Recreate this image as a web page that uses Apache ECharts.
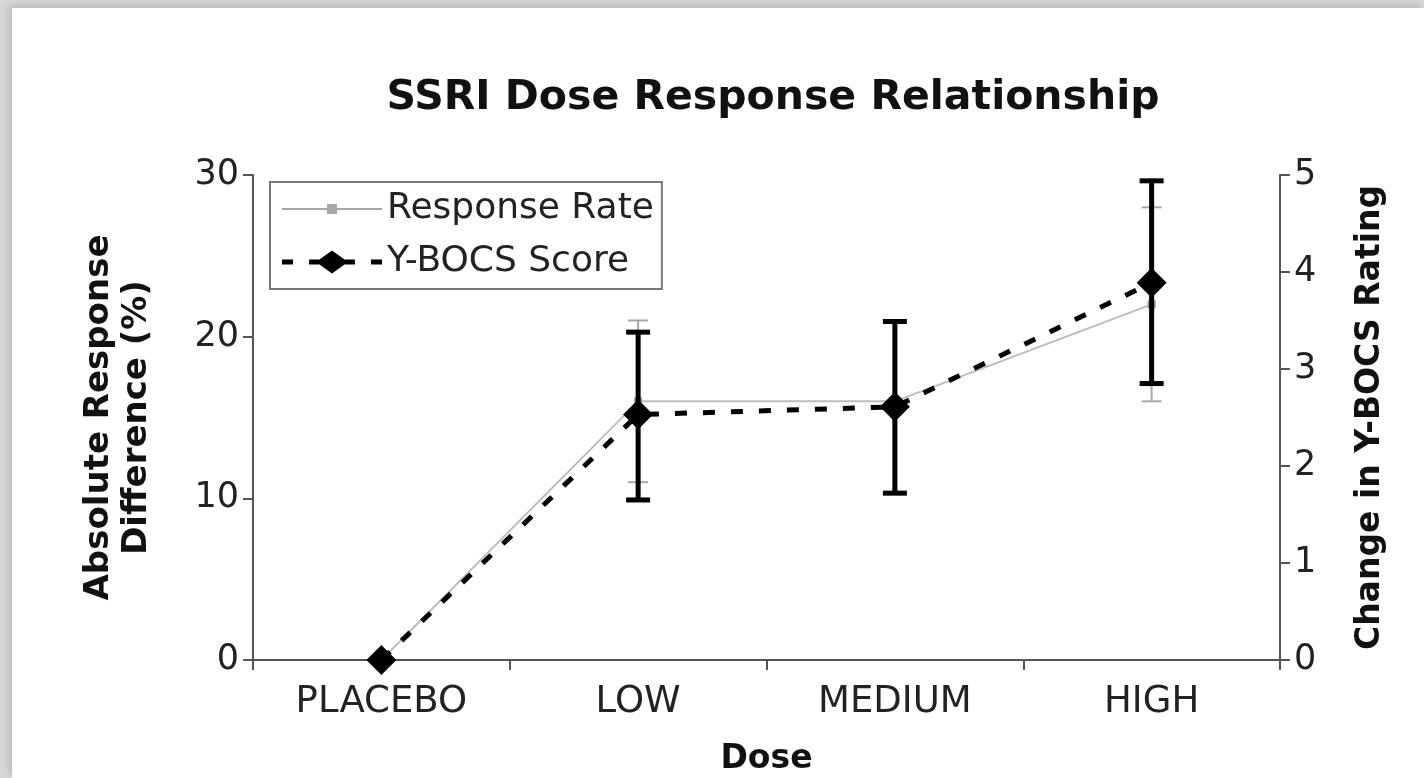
<!DOCTYPE html>
<html>
<head>
<meta charset="utf-8">
<title>SSRI Dose Response Relationship</title>
<script src="https://cdn.jsdelivr.net/npm/echarts@6/dist/echarts.min.js"></script>
<style>
  html, body { margin: 0; padding: 0; width: 1424px; height: 778px; overflow: hidden; background: #d6d6d6; }
  #panel {
    position: absolute; left: 12px; top: 8px; right: 0; bottom: 0;
    background: #ffffff;
    box-shadow: -3px -3px 6px rgba(0,0,0,0.12);
  }
  #chart { position: absolute; left: 0; top: 0; width: 1424px; height: 778px; }
</style>
</head>
<body>
<div id="panel"></div>
<div id="chart"></div>
<script>
// dose groups
const doses = ['PLACEBO', 'LOW', 'MEDIUM', 'HIGH'];

// absolute response difference (%) – left axis
const responseRate = [0, 16, 16, 22];
const responseLow = [null, 11, null, 16];
const responseHigh = [null, 21, null, 28];

// change in Y-BOCS rating – right axis
const ybocsScore = [0, 2.53, 2.61, 3.89];
const ybocsLow = [null, 1.65, 1.72, 2.85];
const ybocsHigh = [null, 3.38, 3.49, 4.94];

// axis ticks
const leftTicks = { min: 0, max: 30, interval: 10 };
const rightTicks = { min: 0, max: 5, interval: 1 };

const fontFamily = '"DejaVu Sans", Verdana, sans-serif';

// legend icons: grey line with a small square, dashed black line with a diamond
const rateIcon = 'path://M0,12H100V14H0Z M45,8H55V18H45Z';
const ybocsIcon = 'path://M0,11H11V16H0Z M27,11H73V16H27Z M50,2L66,13.5L50,25L34,13.5Z M89,11H100V16H89Z';

// [index, low, high] rows for the error bars
const toErrorRows = (lows, highs) =>
  doses.map((d, i) => [i, lows[i], highs[i]]).filter(r => r[1] != null && r[2] != null);

// draws a vertical error bar with caps through the axis scales
const errorBar = (color, lineWidth, capWidth) => (params, api) => {
  const x = api.value(0);
  const lo = api.coord([x, api.value(1)]);
  const hi = api.coord([x, api.value(2)]);
  const half = capWidth / 2;
  const style = { stroke: color, lineWidth: lineWidth };
  return {
    type: 'group',
    children: [
      { type: 'line', shape: { x1: lo[0], y1: lo[1], x2: hi[0], y2: hi[1] }, style },
      { type: 'line', shape: { x1: lo[0] - half, y1: lo[1], x2: lo[0] + half, y2: lo[1] }, style },
      { type: 'line', shape: { x1: hi[0] - half, y1: hi[1], x2: hi[0] + half, y2: hi[1] }, style }
    ]
  };
};

const chart = echarts.init(document.getElementById('chart'));

const axisLine = { show: true, lineStyle: { color: '#555', width: 2 } };
const axisTick = { show: true, length: 10, lineStyle: { color: '#555', width: 2 } };

const option = {
  backgroundColor: 'transparent',
  animation: false,
  title: {
    text: 'SSRI Dose Response Relationship',
    left: 768,
    textAlign: 'center',
    top: 73,
    textStyle: { fontFamily, fontSize: 41, fontWeight: 'bold', color: '#111' }
  },
  legend: {
    data: [
      { name: 'Response Rate', icon: rateIcon, itemStyle: { color: '#a8a8a8' } },
      { name: 'Y-BOCS Score', icon: ybocsIcon, itemStyle: { color: '#000' } }
    ],
    orient: 'vertical',
    left: 270,
    top: 182,
    padding: [9, 8, 9, 12],
    itemGap: 17,
    itemWidth: 100,
    itemHeight: 26,
    borderColor: '#777',
    borderWidth: 2,
    backgroundColor: '#fff',
    textStyle: { fontFamily, fontSize: 36, color: '#222' }
  },
  grid: { left: 253, right: 144, top: 175, bottom: 118, outerBoundsMode: 'none' },
  xAxis: {
    type: 'category',
    data: doses,
    boundaryGap: true,
    name: 'Dose',
    nameLocation: 'middle',
    nameGap: 83,
    nameTextStyle: { fontFamily, fontSize: 33, fontWeight: 'bold', color: '#111' },
    axisLine,
    axisTick: Object.assign({ alignWithLabel: false, interval: 0 }, axisTick),
    axisLabel: { fontFamily, fontSize: 37, color: '#222', margin: 24 },
    splitLine: { show: false }
  },
  yAxis: [
    {
      type: 'value',
      min: leftTicks.min,
      max: leftTicks.max,
      interval: leftTicks.interval,
      position: 'left',
      name: 'Absolute Response\nDifference (%)',
      nameLocation: 'middle',
      nameRotate: 90,
      nameGap: 97,
      nameTextStyle: { fontFamily, fontSize: 34, fontWeight: 'bold', color: '#111', lineHeight: 38 },
      axisLine,
      axisTick,
      axisLabel: { fontFamily, fontSize: 35, color: '#222', margin: 14 },
      splitLine: { show: false }
    },
    {
      type: 'value',
      min: rightTicks.min,
      max: rightTicks.max,
      interval: rightTicks.interval,
      position: 'right',
      name: 'Change in Y-BOCS Rating',
      nameLocation: 'middle',
      nameRotate: 90,
      nameGap: 74,
      nameTextStyle: { fontFamily, fontSize: 33, fontWeight: 'bold', color: '#111' },
      axisLine,
      axisTick,
      axisLabel: { fontFamily, fontSize: 35, color: '#222', margin: 14 },
      splitLine: { show: false }
    }
  ],
  series: [
    {
      name: 'Response Rate error',
      type: 'custom',
      yAxisIndex: 0,
      z: 1,
      renderItem: errorBar('#a8a8a8', 2, 20),
      encode: { x: 0, y: [1, 2] },
      data: toErrorRows(responseLow, responseHigh)
    },
    {
      name: 'Response Rate',
      type: 'line',
      yAxisIndex: 0,
      z: 2,
      data: responseRate,
      symbol: 'rect',
      symbolSize: 8,
      itemStyle: { color: '#9a9a9a' },
      lineStyle: { color: '#bdbdbd', width: 2 }
    },
    {
      name: 'Y-BOCS error',
      type: 'custom',
      yAxisIndex: 1,
      z: 3,
      renderItem: errorBar('#000', 5, 24),
      encode: { x: 0, y: [1, 2] },
      data: toErrorRows(ybocsLow, ybocsHigh)
    },
    {
      name: 'Y-BOCS Score',
      type: 'line',
      yAxisIndex: 1,
      z: 4,
      data: ybocsScore,
      symbol: 'diamond',
      symbolSize: [30, 30],
      itemStyle: { color: '#000' },
      lineStyle: { color: '#000', width: 5, type: [12, 16] }
    }
  ]
};

chart.setOption(option);
</script>
</body>
</html>
